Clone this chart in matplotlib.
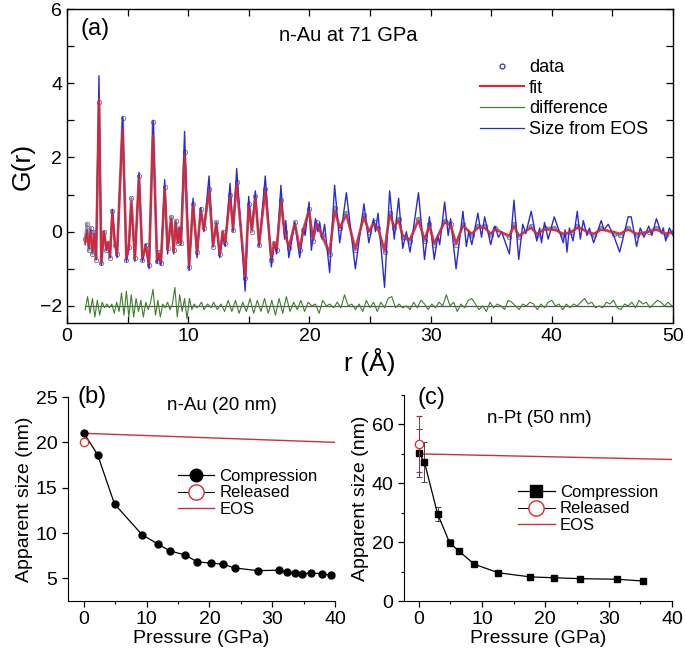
import matplotlib
matplotlib.use("Agg")
import matplotlib.pyplot as plt
from matplotlib.lines import Line2D
from matplotlib.ticker import MultipleLocator

plt.rcParams['font.family'] = ['Liberation Sans', 'DejaVu Sans']

# ---- panel (a): G(r) of n-Au at 71 GPa (turning points) ----
eos_r = [1.50, 1.65, 1.80, 1.95, 2.10, 2.25, 2.40, 2.64, 2.83, 3.05,
         3.25, 3.40, 3.55, 3.74, 3.95, 4.13, 4.59, 4.90, 5.10, 5.31,
         5.60, 5.94, 6.22, 6.50, 6.77, 7.10, 7.43, 7.60, 7.75, 8.06,
         8.30, 8.60, 8.80, 8.97, 9.15, 9.30, 9.40, 9.70, 10.07, 10.40,
         10.73, 11.03, 11.30, 11.72, 12.05, 12.32, 12.60, 12.85, 13.05, 13.45,
         13.70, 14.00, 14.70, 14.99, 15.25, 15.54, 15.85, 16.36, 16.86, 17.10,
         17.30, 17.65, 17.95, 18.05, 18.30, 18.80, 19.20, 19.50, 19.65, 19.97,
         20.16, 20.50, 20.70, 20.85, 21.05, 21.25, 21.67, 22.08, 22.50, 23.05,
         23.79, 24.50, 24.90, 25.30, 25.45, 25.66, 26.20, 26.62, 27.00, 27.36,
         27.70, 28.00, 28.30, 29.00, 29.50, 29.90, 30.30, 30.60, 30.75, 31.16,
         31.45, 31.65, 32.10, 32.67, 32.95, 33.15, 33.40, 33.90, 34.20, 34.46,
         34.96, 35.30, 35.60, 35.85, 36.50, 36.88, 37.27, 37.60, 37.85, 38.30,
         38.76, 39.00, 39.15, 39.40, 39.70, 40.20, 40.95, 41.10, 41.25, 41.45,
         41.75, 42.10, 42.35, 42.60, 42.90, 43.10, 43.45, 44.08, 44.30, 44.65,
         45.10, 45.60, 46.30, 46.55, 47.00, 47.30, 47.60, 48.00, 48.25, 48.63,
         49.05, 49.20, 49.40, 49.70, 50.00]
eos_g = [-0.35, 0.05, -0.45, 0.05, -0.55, -0.05, -0.75, 4.2, -0.9, 0.0,
         -0.5, -0.3, -0.7, 0.6, -0.3, -0.7, 3.1, -0.8, -0.45, 0.75,
         -0.8, 1.6, -0.8, -0.35, -1.0, 3.0, -0.85, -0.6, -0.9, 1.4,
         -0.6, 0.35, -0.6, 0.25, -0.3, 0.1, -0.35, 2.7, -1.05, 0.9,
         -0.7, 0.65, 0.0, 1.5, -0.4, 0.25, -0.7, -0.1, -0.4, 1.3,
         0.0, 1.7, -1.6, 0.95, 0.05, 1.1, -0.4, 1.5, -0.95, -0.3,
         -0.6, 1.25, -0.2, 0.3, -0.7, 0.25, -0.7, 0.1, -0.1, 0.8,
         -0.5, 0.35, 0.0, 0.25, -0.2, 0.2, -1.1, 1.25, -0.3, 1.05,
         -1.0, 0.75, -0.3, 0.35, 0.0, 0.5, -1.5, 1.1, -0.2, 0.9,
         -0.45, 0.0, -0.55, 1.05, -0.75, 0.4, -0.75, -0.1, -0.35, 0.8,
         -0.1, 0.35, -1.0, 0.55, -0.4, 0.0, -0.35, 0.5, -0.15, 0.4,
         -0.35, 0.15, -0.15, 0.0, -0.6, 0.85, -0.75, 0.2, -0.05, 0.55,
         -0.25, 0.1, -0.3, 0.25, -0.2, 0.4, -0.3, 0.05, -0.55, 0.1,
         -0.25, 0.55, -0.2, 0.3, -0.1, 0.1, -0.3, 0.3, 0.05, 0.2,
         -0.1, -0.55, 0.4, 0.4, -0.4, 0.1, -0.15, 0.15, -0.1, 0.35,
         -0.05, 0.1, -0.25, 0.1, -0.1]

fit_r = [1.50, 1.65, 1.80, 1.95, 2.10, 2.25, 2.40, 2.64, 2.83, 3.05,
         3.25, 3.40, 3.55, 3.74, 3.95, 4.13, 4.59, 4.90, 5.10, 5.31,
         5.60, 5.94, 6.22, 6.50, 6.77, 7.10, 7.43, 7.60, 7.75, 8.06,
         8.30, 8.60, 8.80, 8.97, 9.15, 9.30, 9.40, 9.70, 10.07, 10.40,
         10.73, 11.03, 11.30, 11.72, 12.05, 12.32, 12.60, 12.85, 13.05, 13.45,
         13.70, 14.00, 14.70, 14.99, 15.25, 15.54, 15.85, 16.36, 16.86, 17.10,
         17.30, 17.65, 17.95, 18.30, 18.80, 19.20, 19.50, 19.97, 20.30, 20.60,
         21.00, 21.67, 22.08, 22.50, 23.05, 23.79, 24.50, 24.90, 25.30, 25.66,
         26.20, 26.62, 27.00, 27.36, 27.70, 28.30, 29.00, 29.50, 29.90, 30.30,
         31.16, 31.65, 32.10, 32.67, 33.40, 33.90, 34.46, 34.96, 35.30, 36.50,
         36.88, 37.27, 38.30, 38.76, 39.40, 40.20, 40.95, 41.70, 42.10, 43.45,
         44.08, 45.10, 45.60, 46.30, 47.00, 48.00, 48.63, 49.40, 50.00]
fit_g = [-0.3, 0.0, -0.4, 0.0, -0.5, -0.1, -0.7, 3.6, -0.8, 0.0,
         -0.45, -0.3, -0.65, 0.5, -0.3, -0.6, 2.75, -0.7, -0.4, 0.8,
         -0.75, 1.45, -0.7, -0.4, -0.85, 2.6, -0.75, -0.6, -0.8, 1.15,
         -0.5, 0.35, -0.55, 0.25, -0.3, 0.05, -0.3, 2.1, -0.9, 0.7,
         -0.55, 0.55, 0.05, 1.1, -0.35, 0.2, -0.6, 0.0, -0.3, 0.95,
         0.1, 1.3, -1.2, 0.7, 0.05, 0.9, -0.3, 1.1, -0.7, -0.3,
         -0.45, 0.8, 0.0, -0.4, 0.2, -0.45, 0.05, 0.55, -0.2, 0.2,
         -0.05, -0.55, 0.55, 0.1, 0.45, -0.45, 0.4, 0.0, 0.2, 0.1,
         -0.5, 0.45, 0.15, 0.3, -0.1, -0.2, 0.3, -0.2, 0.15, -0.3,
         0.25, 0.15, -0.3, 0.15, -0.05, 0.1, 0.1, -0.05, 0.05, -0.1,
         0.15, -0.1, 0.1, -0.05, 0.05, 0.05, -0.05, 0.0, 0.1, -0.05,
         0.05, 0.0, -0.05, 0.05, -0.05, 0.0, 0.05, -0.05, 0.0]

# measured data sits on the same r points as the fit
data_g = [-0.2, 0.2, -0.5, 0.1, -0.6, 0.0, -0.75, 3.5, -0.85, 0.0,
          -0.5, -0.3, -0.7, 0.55, -0.35, -0.6, 3.05, -0.75, -0.4, 0.9,
          -0.7, 1.5, -0.75, -0.35, -0.9, 2.95, -0.8, -0.55, -0.85, 1.2,
          -0.45, 0.4, -0.5, 0.3, -0.3, 0.1, -0.3, 2.15, -0.95, 0.75,
          -0.55, 0.6, 0.1, 1.15, -0.4, 0.25, -0.6, 0.0, -0.3, 1.0,
          0.05, 1.35, -1.25, 0.75, 0.0, 0.95, -0.35, 1.15, -0.75, -0.3,
          -0.5, 0.85, 0.0, -0.45, 0.25, -0.5, 0.05, 0.6, -0.25, 0.25,
          -0.1, -0.6, 0.65, 0.1, 0.5, -0.5, 0.45, 0.0, 0.25, 0.1,
          -0.55, 0.5, 0.1, 0.35, -0.15, -0.25, 0.35, -0.25, 0.2, -0.35,
          0.3, 0.2, -0.35, 0.2, -0.1, 0.15, 0.15, -0.1, 0.1, -0.15,
          0.2, -0.15, 0.15, -0.1, 0.1, 0.1, -0.1, 0.0, 0.15, -0.1,
          0.1, -0.05, -0.1, 0.1, -0.1, 0.0, 0.1, -0.1, 0.0]

diff_r = [1.5, 1.7, 1.9, 2.1, 2.3, 2.5, 2.7, 2.9, 3.1, 3.3,
          3.5, 3.7, 3.9, 4.1, 4.3, 4.5, 4.7, 4.9, 5.1, 5.3,
          5.5, 5.7, 5.9, 6.1, 6.3, 6.5, 6.7, 6.9, 7.1, 7.3,
          7.5, 7.7, 7.9, 8.1, 8.3, 8.5, 8.7, 8.9, 9.1, 9.3,
          9.5, 9.7, 9.9, 10.1, 10.3, 10.5, 10.7, 10.9, 11.1, 11.3,
          11.6, 11.9, 12.1, 12.4, 12.7, 13.0, 13.3, 13.6, 13.9, 14.2,
          14.5, 14.8, 15.1, 15.4, 15.7, 16.0, 16.3, 16.6, 16.9, 17.2,
          17.5, 17.8, 18.1, 18.4, 18.7, 19.0, 19.3, 19.6, 19.9, 20.2,
          20.5, 20.8, 21.1, 21.4, 21.7, 22.0, 22.3, 22.6, 22.9, 23.2,
          23.5, 23.8, 24.1, 24.4, 24.7, 25.0, 25.3, 25.6, 25.9, 26.2,
          26.5, 26.8, 27.1, 27.4, 27.7, 28.0, 28.3, 28.6, 28.9, 29.2,
          29.5, 29.8, 30.1, 30.4, 30.7, 31.0, 31.3, 31.6, 31.9, 32.2,
          32.5, 32.8, 33.1, 33.4, 33.7, 34.0, 34.3, 34.6, 34.9, 35.2,
          35.5, 35.8, 36.1, 36.4, 36.7, 37.0, 37.3, 37.6, 37.9, 38.2,
          38.5, 38.8, 39.1, 39.4, 39.7, 40.0, 40.3, 40.6, 40.9, 41.2,
          41.5, 41.8, 42.1, 42.4, 42.7, 43.0, 43.3, 43.6, 43.9, 44.2,
          44.5, 44.8, 45.1, 45.4, 45.7, 46.0, 46.3, 46.6, 46.9, 47.2,
          47.5, 47.8, 48.1, 48.4, 48.7, 49.0, 49.3, 49.6, 49.9]
diff_g = [-2.10, -1.75, -2.20, -1.80, -2.30, -1.85, -2.25, -1.90, -2.05, -1.95,
          -2.05, -1.95, -2.20, -1.90, -2.15, -1.65, -2.25, -1.60, -2.30, -1.70,
          -2.30, -1.80, -2.15, -1.85, -2.30, -1.90, -2.10, -1.90, -1.55, -2.25,
          -1.85, -2.30, -1.95, -2.05, -1.90, -2.10, -1.95, -1.50, -2.30, -1.70,
          -2.15, -1.80, -2.35, -1.80, -2.10, -1.95, -2.05, -2.00, -1.90, -2.10,
          -1.95, -2.05, -1.90, -2.10, -1.95, -2.15, -1.85, -2.15, -1.85, -2.20,
          -1.90, -2.15, -1.80, -2.20, -1.85, -2.15, -1.80, -2.20, -1.85, -2.25,
          -1.80, -2.20, -1.75, -2.15, -1.90, -2.10, -1.85, -2.15, -1.90, -2.00,
          -1.95, -2.20, -1.85, -2.00, -1.95, -2.05, -1.90, -2.05, -1.70, -2.00,
          -1.95, -2.10, -1.95, -2.15, -1.85, -2.05, -1.90, -2.15, -1.90, -2.05,
          -1.80, -1.75, -2.05, -1.95, -2.05, -2.00, -2.10, -1.90, -2.05, -1.85,
          -1.95, -2.10, -1.95, -2.05, -1.90, -2.00, -1.70, -2.00, -1.90, -2.15,
          -1.95, -2.05, -1.85, -1.80, -1.95, -2.10, -2.00, -2.15, -1.90, -2.05,
          -1.95, -2.00, -2.10, -1.85, -1.90, -2.00, -2.10, -1.95, -2.00, -1.90,
          -1.95, -2.10, -1.95, -2.05, -1.90, -1.85, -2.00, -1.95, -2.10, -1.95,
          -2.05, -1.95, -2.00, -1.90, -1.80, -1.95, -1.90, -2.05, -2.00, -2.05,
          -1.90, -1.95, -1.85, -2.05, -2.10, -1.95, -2.00, -1.90, -2.05, -1.85,
          -1.95, -1.90, -2.05, -1.95, -1.85, -1.90, -2.00, -1.90, -2.00]
diff_base = -2.0

# ---- panel (b): n-Au (20 nm) ----
au_p = [0.0, 2.2, 4.9, 9.3, 11.9, 13.8, 16.1, 18.1, 20.2, 22.2,
        24.0, 27.7, 31.1, 32.4, 33.6, 34.8, 36.1, 37.9, 39.4]
au_size = [21.05, 18.65, 13.2, 9.8, 8.75, 8.0, 7.6, 6.8, 6.7, 6.55,
           6.15, 5.85, 5.9, 5.65, 5.63, 5.52, 5.58, 5.52, 5.32]
au_rel_p = [0.0]
au_rel_size = [20.0]
au_eos_p = [0.0, 40.0]
au_eos_size = [21.0, 20.0]

# ---- panel (c): n-Pt (50 nm) ----
pt_p = [0.0, 0.9, 3.0, 4.9, 6.4, 8.8, 12.6, 17.6, 21.4, 25.5, 31.3, 35.4]
pt_size = [50.3, 47.4, 29.6, 19.8, 16.9, 12.5, 9.6, 8.2, 7.9, 7.6, 7.4, 6.8]
pt_err = [8.2, 6.8, 2.5, 1.2, 0.8, 0.6, 0.5, 0.4, 0.4, 0.4, 0.4, 0.4]
pt_rel_p = [0.0]
pt_rel_size = [53.3]
pt_rel_err = [9.5]
pt_eos_p = [0.0, 40.0]
pt_eos_size = [50.0, 48.1]

BLUE = '#2b2bd6'
RED = '#e3262a'
GREEN = '#3f7f2c'
EOS_RED = '#c8323a'

fig = plt.figure(figsize=(6.85, 6.53), dpi=100)

# --- (a) ---
ax = fig.add_axes([0.0978, 0.5054, 0.8847, 0.4808])
ax.plot(fit_r, data_g, color='#9a90b4', lw=2.0, zorder=2)
ax.plot(fit_r, data_g, ls='none', marker='o', ms=3.2, mfc='none',
        mec='#6e6a86', mew=0.6, zorder=2)
ax.plot(eos_r, eos_g, color=BLUE, lw=1.0, zorder=3, solid_joinstyle='round')
ax.plot(fit_r, fit_g, color=RED, lw=1.5, alpha=0.9, zorder=4,
        solid_joinstyle='round')
ax.hlines(diff_base, diff_r[0], diff_r[-1], color='#555555', lw=0.9, zorder=2)
ax.plot(diff_r, diff_g, color=GREEN, lw=0.8, zorder=3)

ax.set_xlim(0, 50)
ax.set_ylim(-2.46, 6)
ax.xaxis.set_major_locator(MultipleLocator(10))
ax.xaxis.set_minor_locator(MultipleLocator(5))
ax.yaxis.set_major_locator(MultipleLocator(2))
ax.yaxis.set_minor_locator(MultipleLocator(1))
ax.tick_params(which='both', direction='in', top=True, right=True,
               length=5, width=0.9, labelsize=14)
ax.set_xlabel('r (Å)', fontsize=19, labelpad=2)
ax.set_ylabel('G(r)', fontsize=19, labelpad=4)
ax.text(0.022, 0.935, '(a)', transform=ax.transAxes, fontsize=17, va='center')
ax.text(0.35, 0.915, 'n-Au at 71 GPa', transform=ax.transAxes, fontsize=14.5,
        va='center')

handles = [Line2D([], [], ls='none', marker='o', ms=3.5, mfc='none', mec=BLUE, mew=0.9),
           Line2D([], [], color=RED, lw=1.5),
           Line2D([], [], color=GREEN, lw=0.9),
           Line2D([], [], color=BLUE, lw=0.9)]
ax.legend(handles, ['data', 'fit', 'difference', 'Size from EOS'],
          loc='center left', bbox_to_anchor=(0.655, 0.715), frameon=False,
          fontsize=13, handlelength=2.4, handletextpad=0.3, labelspacing=0.2)
for s in ax.spines.values():
    s.set_linewidth(1.0)

# legend entries shared by (b) and (c)
def size_handles(comp_marker):
    return [Line2D([], [], color='black', lw=0.9, marker=comp_marker, ms=9),
            Line2D([], [], color='black', lw=0.7, marker='o', ms=11,
                   mfc='white', mec=RED, mew=1.0),
            Line2D([], [], color=EOS_RED, lw=1.0)]

# --- (b) ---
axb = fig.add_axes([0.0993, 0.0796, 0.3898, 0.3124])
axb.plot(au_eos_p, au_eos_size, color=EOS_RED, lw=1.0, zorder=2)
axb.plot(au_p, au_size, color='black', lw=0.9, marker='o', ms=5, zorder=3)
axb.plot(au_rel_p, au_rel_size, ls='none', marker='o', ms=6,
         mfc='white', mec=RED, mew=0.9, zorder=4)
axb.set_xlim(-2.5, 40)
axb.set_ylim(2.5, 25)
axb.xaxis.set_major_locator(MultipleLocator(10))
axb.xaxis.set_minor_locator(MultipleLocator(5))
axb.yaxis.set_major_locator(MultipleLocator(5))
axb.set_xlabel('Pressure (GPa)', fontsize=14, labelpad=1)
axb.set_ylabel('Apparent size (nm)', fontsize=14, labelpad=2)
axb.text(0.035, 1.0, '(b)', transform=axb.transAxes, fontsize=17, va='center')
axb.text(0.37, 0.96, 'n-Au (20 nm)', transform=axb.transAxes, fontsize=13.5,
         va='center')
axb.legend(size_handles('o'), ['Compression', 'Released', 'EOS'],
           loc='center left', bbox_to_anchor=(0.355, 0.53), frameon=False,
           fontsize=12, handlelength=2.2, handletextpad=0.3, labelspacing=0.1)

# --- (c) ---
axc = fig.add_axes([0.5898, 0.0796, 0.3912, 0.3155])
axc.plot(pt_eos_p, pt_eos_size, color=EOS_RED, lw=1.0, zorder=2)
axc.errorbar(pt_p, pt_size, yerr=pt_err, color='black', lw=0.9, marker='s',
             ms=5, elinewidth=0.7, ecolor='#444444', capsize=2, capthick=0.7,
             zorder=3)
axc.errorbar(pt_rel_p, pt_rel_size, yerr=pt_rel_err, ls='none',
             marker='o', ms=6, mfc='white', mec=RED, mew=0.9,
             ecolor='#a0303a', elinewidth=0.7, capsize=2, capthick=0.7,
             zorder=4)
axc.set_xlim(-2.3, 40)
axc.set_ylim(0, 70)
axc.xaxis.set_major_locator(MultipleLocator(10))
axc.xaxis.set_minor_locator(MultipleLocator(5))
axc.yaxis.set_major_locator(MultipleLocator(20))
axc.yaxis.set_minor_locator(MultipleLocator(10))
axc.set_xlabel('Pressure (GPa)', fontsize=14, labelpad=1)
axc.set_ylabel('Apparent size (nm)', fontsize=14, labelpad=2)
axc.text(0.05, 0.985, '(c)', transform=axc.transAxes, fontsize=17, va='center')
axc.text(0.31, 0.885, 'n-Pt (50 nm)', transform=axc.transAxes, fontsize=13.5,
         va='center')
axc.legend(size_handles('s'), ['Compression', 'Released', 'EOS'],
           loc='center left', bbox_to_anchor=(0.37, 0.447), frameon=False,
           fontsize=12, handlelength=2.2, handletextpad=0.3, labelspacing=0.1)

for a in (axb, axc):
    a.spines['top'].set_visible(False)
    a.spines['right'].set_visible(False)
    a.tick_params(which='major', direction='out', length=4, width=0.9, labelsize=14)
    a.tick_params(which='minor', direction='out', length=2.5, width=0.8)

fig.savefig('out.png', dpi=100)
